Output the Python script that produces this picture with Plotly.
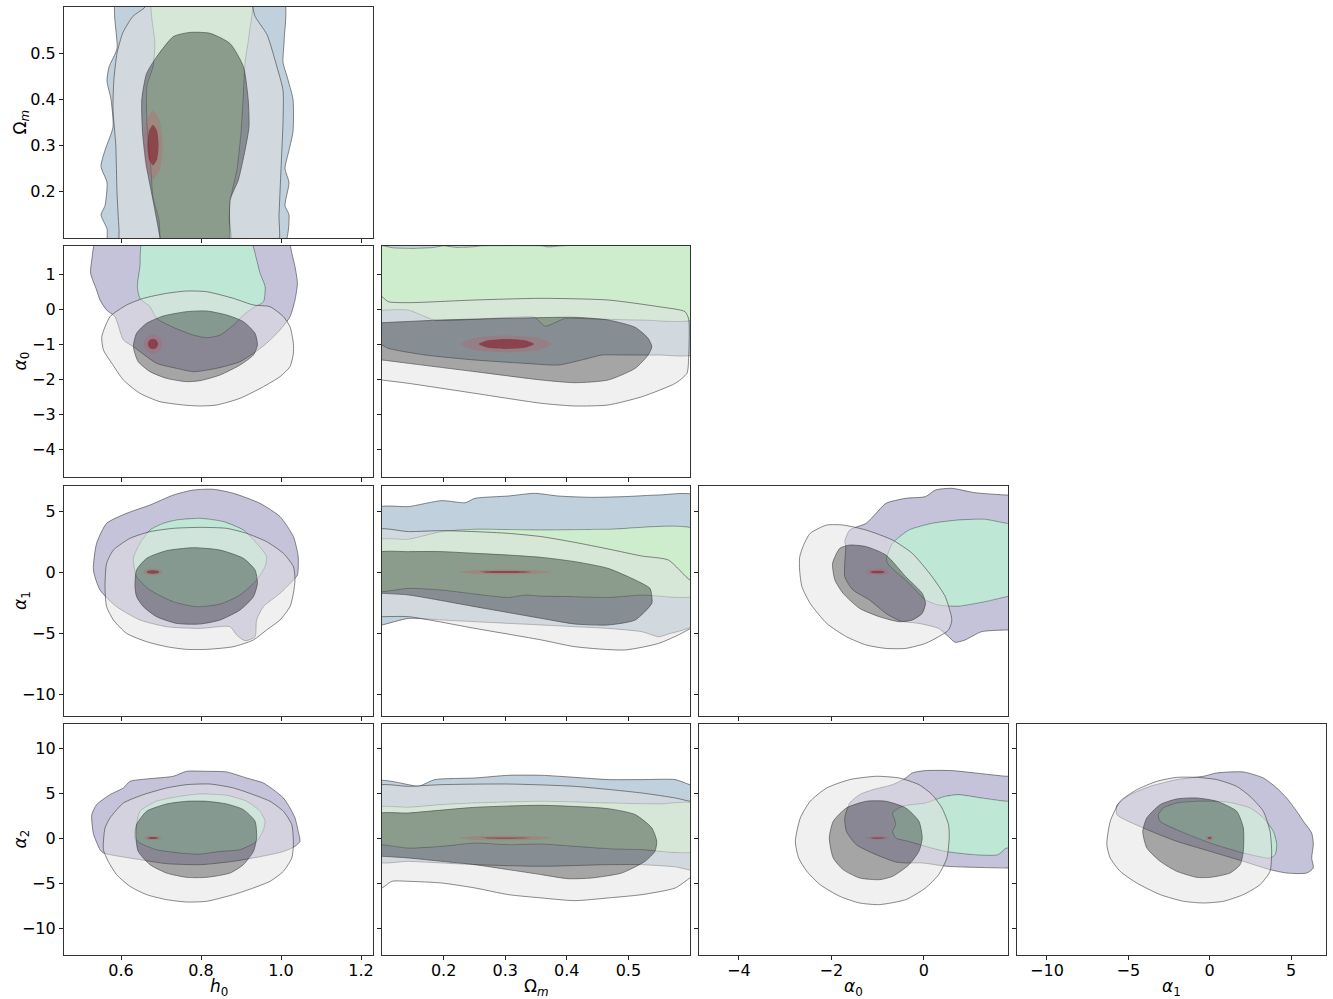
import plotly.graph_objects as go

# ------------------------------------------------------------------
# Contour outlines (data coordinates)
# ------------------------------------------------------------------
# panel h0 - Omega_m
H0_OM_BLUE95 = [(0.59,0.62),(0.59,0.51),(0.57,0.47),(0.565,0.44),(0.575,0.40),(0.58,0.34),(0.56,0.29),(0.55,0.255),(0.565,0.22),(0.56,0.17),(0.55,0.15),(0.565,0.12),(0.57,0.08),(1.005,0.08),(1.02,0.15),(1.01,0.17),(1.02,0.22),(1.01,0.25),(1.02,0.29),(1.03,0.33),(1.03,0.40),(1.015,0.45),(1.005,0.48),(1.008,0.53),(1.005,0.62)]
H0_OM_GREEN68 = [(0.68,0.62),(0.685,0.52),(0.68,0.47),(0.665,0.43),(0.665,0.35),(0.675,0.25),(0.68,0.19),(0.695,0.14),(0.705,0.08),(0.875,0.08),(0.87,0.14),(0.875,0.19),(0.89,0.25),(0.9,0.33),(0.905,0.4),(0.91,0.48),(0.92,0.54),(0.925,0.62)]
H0_OM_GREY95 = [(0.66,0.62),(0.66,0.60),(0.63,0.58),(0.605,0.545),(0.59,0.5),(0.582,0.44),(0.58,0.38),(0.587,0.3),(0.59,0.2),(0.595,0.12),(0.6,0.08),(0.99,0.08),(0.995,0.15),(1.0,0.25),(1.005,0.35),(1.005,0.42),(0.99,0.47),(0.965,0.54),(0.935,0.58),(0.92,0.62)]
H0_OM_GREY68 = [(0.7725,0.545),(0.731,0.536),(0.689,0.492),(0.664,0.456),(0.652,0.399),(0.654,0.327),(0.664,0.254),(0.68,0.182),(0.6975,0.1),(0.70,0.08),(0.87,0.08),(0.8725,0.1),(0.8725,0.182),(0.893,0.225),(0.91,0.29),(0.92,0.341),(0.918,0.399),(0.906,0.471),(0.8725,0.521),(0.8225,0.543)]
H0_OM_RED95 = [(0.704,0.301),(0.697,0.354),(0.68,0.376),(0.663,0.354),(0.656,0.301),(0.663,0.248),(0.68,0.226),(0.697,0.248)]
H0_OM_RED68 = [(0.694,0.301),(0.690,0.332),(0.68,0.345),(0.670,0.332),(0.666,0.301),(0.670,0.270),(0.68,0.257),(0.690,0.270)]

# panel h0 - alpha_0
H0_A0_PURPLE95 = [(0.54,2.0),(0.527,1.4),(0.524,1.02),(0.539,0.543),(0.5475,0.257),(0.564,-0.03),(0.585,-0.22),(0.606,-0.886),(0.631,-1.076),(0.689,-1.55),(0.739,-1.695),(0.781,-1.79),(0.839,-1.695),(0.8975,-1.505),(0.931,-1.267),(0.964,-0.98),(0.9975,-0.6),(1.0225,-0.22),(1.035,0.257),(1.041,0.733),(1.035,1.21),(1.027,1.59),(1.016,2.0)]
H0_A0_MINT68 = [(0.656,2.0),(0.6475,1.21),(0.641,0.638),(0.6475,0.305),(0.6725,0.067),(0.689,-0.267),(0.731,-0.524),(0.781,-0.743),(0.814,-0.819),(0.8475,-0.743),(0.881,-0.457),(0.906,-0.171),(0.931,0.038),(0.956,0.21),(0.96,0.638),(0.9475,1.02),(0.939,1.4),(0.92,2.0)]
H0_A0_GREY95 = [(0.552,-0.79),(0.5725,-0.22),(0.614,0.114),(0.656,0.305),(0.714,0.448),(0.764,0.514),(0.814,0.495),(0.881,0.305),(0.931,0.114),(0.9725,0.067),(1.006,-0.219),(1.0225,-0.505),(1.031,-0.981),(1.031,-1.267),(1.0225,-1.648),(0.9975,-1.933),(0.956,-2.219),(0.8975,-2.552),(0.839,-2.743),(0.7975,-2.771),(0.756,-2.743),(0.6975,-2.648),(0.6475,-2.41),(0.606,-2.029),(0.577,-1.552),(0.556,-1.171)]
H0_A0_GREY68 = [(0.631,-1.076),(0.639,-0.695),(0.664,-0.41),(0.706,-0.2),(0.764,-0.076),(0.814,-0.057),(0.864,-0.171),(0.906,-0.362),(0.935,-0.695),(0.941,-1.029),(0.931,-1.314),(0.8975,-1.6),(0.8475,-1.886),(0.7975,-2.048),(0.764,-2.076),(0.714,-1.981),(0.6725,-1.79),(0.643,-1.505)]
H0_A0_RED95 = [(0.703,-1.0),(0.696,-0.81),(0.68,-0.73),(0.664,-0.81),(0.657,-1.0),(0.664,-1.19),(0.68,-1.27),(0.696,-1.19)]
H0_A0_RED68 = [(0.693,-1.0),(0.689,-0.894),(0.68,-0.85),(0.671,-0.894),(0.667,-1.0),(0.671,-1.106),(0.68,-1.15),(0.689,-1.106)]

# panel Omega_m - alpha_0
OM_A0_BLUE95 = [(0.09,2.1),(0.61,2.1),(0.61,-1.267),(0.549,-1.314),(0.489,-1.314),(0.457,-1.314),(0.424,-1.457),(0.386,-1.6),(0.332,-1.552),(0.251,-1.457),(0.170,-1.314),(0.11,-1.124),(0.1,-1.029),(0.09,-1.0)]
OM_A0_GREEN68 = [(0.09,1.8),(0.12,1.74),(0.15,1.73),(0.18,1.75),(0.2,1.8),(0.22,1.76),(0.245,1.77),(0.26,1.8),(0.36,1.8),(0.37,1.77),(0.39,1.8),(0.61,1.8),(0.61,-0.267),(0.522,-0.314),(0.413,-0.267),(0.397,-0.267),(0.365,-0.486),(0.348,-0.238),(0.305,-0.238),(0.186,-0.314),(0.143,-0.029),(0.1,-0.029),(0.09,-0.029)]
OM_A0_GREY95 = [(0.09,0.40),(0.1,0.352),(0.11,0.21),(0.143,0.181),(0.251,0.257),(0.359,0.305),(0.467,0.257),(0.549,0.067),(0.592,-0.076),(0.598,-0.3),(0.598,-1.3),(0.595,-1.838),(0.576,-2.124),(0.522,-2.505),(0.467,-2.743),(0.413,-2.771),(0.359,-2.695),(0.251,-2.41),(0.143,-2.124),(0.1,-2.029),(0.09,-2.0)]
OM_A0_GREY68 = [(0.09,-0.39),(0.1,-0.39),(0.197,-0.314),(0.305,-0.267),(0.413,-0.238),(0.467,-0.314),(0.511,-0.524),(0.532,-0.838),(0.538,-1.076),(0.532,-1.314),(0.511,-1.695),(0.467,-2.029),(0.413,-2.105),(0.359,-2.029),(0.251,-1.79),(0.143,-1.552),(0.1,-1.457),(0.09,-1.45)]
OM_A0_RED95 = [(0.376,-1.0),(0.354,-0.83),(0.302,-0.76),(0.25,-0.83),(0.228,-1.0),(0.25,-1.17),(0.302,-1.24),(0.354,-1.17)]
OM_A0_RED68 = [(0.347,-1.0),(0.334,-0.901),(0.302,-0.86),(0.27,-0.901),(0.257,-1.0),(0.27,-1.099),(0.302,-1.14),(0.334,-1.099)]

# panel h0 - alpha_1
H0_A1_PURPLE95 = [(0.531,0.165),(0.539,2.35),(0.564,3.99),(0.614,4.81),(0.6725,5.49),(0.731,6.31),(0.781,6.72),(0.831,6.78),(0.881,6.45),(0.9475,5.63),(0.9975,4.54),(1.031,2.90),(1.043,1.26),(1.041,-0.245),(1.031,-0.655),(0.9975,-1.75),(0.956,-2.84),(0.939,-3.93),(0.935,-5.30),(0.91,-5.63),(0.889,-5.16),(0.8725,-4.48),(0.7975,-4.62),(0.714,-4.48),(0.6475,-3.93),(0.589,-2.84),(0.5475,-1.47)]
H0_A1_MINT68 = [(0.631,1.12),(0.6475,2.35),(0.6725,3.44),(0.706,3.99),(0.739,4.26),(0.7975,4.40),(0.856,4.13),(0.906,3.44),(0.939,2.35),(0.964,1.26),(0.96,0.44),(0.939,-0.655),(0.8975,-1.88),(0.8475,-2.62),(0.789,-2.84),(0.731,-2.43),(0.6725,-1.47),(0.639,-0.38)]
H0_A1_GREY95 = [(0.56,-1.20),(0.564,0.71),(0.581,1.80),(0.6225,2.76),(0.6725,3.31),(0.731,3.58),(0.7975,3.66),(0.864,3.58),(0.914,3.17),(0.964,2.49),(1.006,1.53),(1.031,0.44),(1.035,-0.655),(1.031,-1.75),(1.0225,-2.84),(0.9975,-3.93),(0.964,-4.75),(0.931,-5.57),(0.881,-6.12),(0.814,-6.34),(0.764,-6.34),(0.714,-6.12),(0.664,-5.71),(0.614,-5.03),(0.581,-3.93),(0.564,-2.84)]
H0_A1_GREY68 = [(0.635,-1.20),(0.639,0.165),(0.664,1.12),(0.714,1.75),(0.781,1.99),(0.8475,1.80),(0.906,1.12),(0.935,0.165),(0.941,-0.93),(0.931,-2.02),(0.8975,-3.11),(0.8475,-3.93),(0.7975,-4.26),(0.739,-4.21),(0.689,-3.66),(0.656,-2.84),(0.639,-2.02)]
H0_A1_RED95 = [(0.705,0.0),(0.698,0.184),(0.68,0.26),(0.662,0.184),(0.655,0.0),(0.662,-0.184),(0.68,-0.26),(0.698,-0.184)]
H0_A1_RED68 = [(0.696,0.0),(0.691,0.099),(0.68,0.14),(0.669,0.099),(0.664,0.0),(0.669,-0.099),(0.68,-0.14),(0.691,-0.099)]

# panel Omega_m - alpha_1
OM_A1_BLUE95 = [(0.09,5.22),(0.143,5.36),(0.197,5.85),(0.235,5.68),(0.251,6.04),(0.305,6.23),(0.348,6.45),(0.386,6.23),(0.440,6.12),(0.494,6.18),(0.549,6.31),(0.61,6.23),(0.61,-4.21),(0.565,-5.08),(0.549,-5.30),(0.522,-4.89),(0.467,-4.62),(0.413,-4.48),(0.359,-4.34),(0.251,-4.07),(0.197,-3.93),(0.143,-3.80),(0.1,-4.34),(0.09,-4.4)]
OM_A1_GREEN68 = [(0.09,2.57),(0.143,2.68),(0.197,3.31),(0.251,3.50),(0.359,3.44),(0.467,3.50),(0.61,3.44),(0.61,-1.88),(0.522,-1.88),(0.467,-2.08),(0.413,-2.02),(0.359,-1.97),(0.332,-1.88),(0.305,-2.08),(0.251,-1.80),(0.197,-1.47),(0.143,-1.34),(0.1,-1.61),(0.09,-1.61)]
OM_A1_GREY95 = [(0.09,3.44),(0.143,3.31),(0.197,3.39),(0.251,3.31),(0.305,3.17),(0.359,2.90),(0.413,2.43),(0.467,1.89),(0.522,1.31),(0.565,0.98),(0.6,-0.655),(0.61,-0.7),(0.61,-4.21),(0.586,-5.03),(0.549,-5.85),(0.494,-6.39),(0.413,-6.12),(0.359,-5.57),(0.251,-4.62),(0.143,-3.66),(0.1,-3.66),(0.09,-3.66)]
OM_A1_GREY68 = [(0.09,1.53),(0.143,1.67),(0.197,1.67),(0.251,1.53),(0.305,1.39),(0.359,1.20),(0.413,0.85),(0.467,0.30),(0.511,-0.655),(0.535,-1.34),(0.538,-2.0),(0.538,-2.57),(0.511,-3.93),(0.467,-4.34),(0.413,-4.26),(0.359,-3.80),(0.251,-2.84),(0.143,-1.88),(0.1,-1.75),(0.09,-1.75)]
OM_A1_RED95 = [(0.374,0.0),(0.352,0.141),(0.30,0.2),(0.248,0.141),(0.226,0.0),(0.248,-0.141),(0.30,-0.2),(0.352,-0.141)]
OM_A1_RED68 = [(0.342,0.0),(0.330,0.057),(0.30,0.08),(0.27,0.057),(0.258,0.0),(0.27,-0.057),(0.30,-0.08),(0.330,-0.057)]

# panel alpha_0 - alpha_1
A0_A1_PURPLE95 = [(-1.709,2.49),(-1.602,3.44),(-1.246,3.99),(-1.032,4.81),(-0.819,5.63),(-0.391,6.04),(0.036,6.18),(0.250,6.72),(0.606,6.86),(1.105,6.50),(1.781,6.31),(1.95,6.3),(1.95,-4.75),(1.781,-4.75),(1.247,-4.89),(0.891,-5.57),(0.677,-5.76),(0.535,-5.30),(0.321,-4.62),(-0.106,-4.21),(-0.498,-4.02),(-0.819,-3.39),(-1.175,-2.29),(-1.531,-1.47),(-1.709,-0.38),(-1.687,2.21)]
A0_A1_MINT68 = [(-0.804,1.12),(-0.676,2.35),(-0.32,3.44),(0.179,3.99),(0.748,4.26),(1.318,4.32),(1.781,3.99),(1.95,3.9),(1.95,-1.9),(1.781,-2.02),(1.318,-2.43),(0.748,-2.79),(0.321,-2.70),(0.036,-2.29),(-0.178,-1.47),(-0.391,-0.655),(-0.605,0.028),(-0.783,0.71)]
A0_A1_GREY95 = [(-2.685,0.165),(-2.685,1.2),(-2.6,2.2),(-2.457,3.17),(-2.1,3.85),(-1.744,3.85),(-1.246,3.44),(-0.676,2.62),(-0.249,1.53),(0.179,-0.38),(0.464,-2.02),(0.606,-3.93),(0.535,-4.75),(0.321,-5.30),(0.036,-5.85),(-0.391,-6.26),(-0.819,-6.26),(-1.246,-5.98),(-1.673,-5.30),(-2.1,-4.21),(-2.457,-2.57),(-2.635,-1.20)]
A0_A1_GREY68 = [(-1.972,0.71),(-1.816,1.94),(-1.602,2.21),(-1.246,2.08),(-0.819,1.39),(-0.391,-0.38),(-0.035,-1.75),(0.036,-2.57),(-0.035,-3.39),(-0.249,-3.93),(-0.534,-4.07),(-0.961,-3.66),(-1.388,-2.98),(-1.744,-1.75),(-1.922,-0.655)]
A0_A1_RED95 = [(-0.74,0.0),(-0.816,0.184),(-1.0,0.26),(-1.184,0.184),(-1.26,0.0),(-1.184,-0.184),(-1.0,-0.26),(-0.816,-0.184)]
A0_A1_RED68 = [(-0.84,0.0),(-0.887,0.078),(-1.0,0.11),(-1.113,0.078),(-1.16,0.0),(-1.113,-0.078),(-1.0,-0.11),(-0.887,-0.078)]

# panel h0 - alpha_2
H0_A2_PURPLE95 = [(0.527,2.60),(0.539,3.71),(0.5725,4.82),(0.606,5.56),(0.6225,6.30),(0.664,6.56),(0.731,6.86),(0.764,7.41),(0.814,7.41),(0.864,7.34),(0.914,6.67),(0.956,6.11),(0.981,5.37),(1.006,4.45),(1.0225,3.34),(1.035,2.23),(1.043,0.74),(1.0475,-0.37),(1.035,-0.92),(1.006,-1.5),(0.956,-2.0),(0.881,-2.59),(0.8,-2.96),(0.714,-2.85),(0.6475,-2.4),(0.556,-1.66),(0.5475,-1.29),(0.531,0.5)]
H0_A2_MINT68 = [(0.635,0.74),(0.639,1.48),(0.6475,2.97),(0.689,4.08),(0.7475,4.63),(0.7975,4.89),(0.864,4.74),(0.914,4.08),(0.9475,2.97),(0.96,1.86),(0.956,0.93),(0.939,-0.37),(0.8975,-1.29),(0.8475,-1.48),(0.7975,-1.78),(0.7475,-1.66),(0.689,-1.29),(0.6475,-0.55),(0.635,0.0)]
H0_A2_GREY95 = [(0.556,-1.29),(0.56,1.11),(0.5725,2.23),(0.606,3.89),(0.656,4.82),(0.714,5.56),(0.764,5.93),(0.8225,6.0),(0.881,5.56),(0.931,4.82),(0.9725,4.08),(1.006,2.97),(1.027,1.48),(1.031,-0.74),(1.027,-2.22),(1.006,-3.70),(0.9725,-4.81),(0.931,-5.55),(0.881,-6.29),(0.814,-7.03),(0.764,-7.11),(0.714,-6.85),(0.664,-6.29),(0.6225,-5.37),(0.589,-4.07),(0.568,-2.59)]
H0_A2_GREY68 = [(0.6375,0.0),(0.639,1.48),(0.664,2.97),(0.714,3.78),(0.764,4.08),(0.814,4.08),(0.864,3.78),(0.906,3.15),(0.935,1.86),(0.939,0.0),(0.931,-1.48),(0.906,-2.96),(0.8725,-3.89),(0.814,-4.37),(0.764,-4.37),(0.714,-3.89),(0.6725,-2.96),(0.643,-1.48)]
H0_A2_RED95 = [(0.703,0.0),(0.696,0.17),(0.68,0.24),(0.664,0.17),(0.657,0.0),(0.664,-0.17),(0.68,-0.24),(0.696,-0.17)]
H0_A2_RED68 = [(0.694,0.0),(0.69,0.071),(0.68,0.1),(0.67,0.071),(0.666,0.0),(0.67,-0.071),(0.68,-0.1),(0.69,-0.071)]

# panel Omega_m - alpha_2
OM_A2_BLUE95 = [(0.09,6.30),(0.143,5.93),(0.159,5.74),(0.186,6.49),(0.251,6.67),(0.305,6.97),(0.359,6.97),(0.413,6.74),(0.467,6.49),(0.522,6.49),(0.576,6.49),(0.6,5.93),(0.61,5.9),(0.61,-3.51),(0.576,-3.2),(0.522,-2.96),(0.467,-2.96),(0.359,-3.14),(0.251,-2.96),(0.143,-2.59),(0.09,-2.59)]
OM_A2_GREEN68 = [(0.09,3.34),(0.143,3.41),(0.197,3.71),(0.251,3.89),(0.359,4.08),(0.467,3.89),(0.549,3.78),(0.61,3.78),(0.61,-1.40),(0.522,-1.29),(0.467,-1.18),(0.413,-0.92),(0.359,-0.66),(0.305,-0.74),(0.251,-0.55),(0.197,-0.92),(0.143,-1.11),(0.1,-0.74),(0.09,-0.74)]
OM_A2_GREY95 = [(0.09,5.74),(0.143,5.74),(0.197,5.93),(0.305,6.0),(0.413,5.74),(0.522,5.0),(0.576,4.45),(0.6,4.08),(0.61,4.0),(0.61,-4.0),(0.6,-4.44),(0.576,-5.55),(0.522,-6.29),(0.467,-6.66),(0.413,-6.96),(0.359,-6.66),(0.305,-6.29),(0.251,-5.55),(0.197,-5.0),(0.143,-4.81),(0.116,-4.81),(0.1,-5.55),(0.09,-5.6)]
OM_A2_GREY68 = [(0.09,2.60),(0.143,2.78),(0.251,3.41),(0.359,3.63),(0.467,3.26),(0.511,2.60),(0.538,1.11),(0.546,-0.37),(0.543,-1.48),(0.527,-2.59),(0.489,-3.89),(0.440,-4.44),(0.402,-4.52),(0.359,-4.07),(0.305,-3.51),(0.251,-2.96),(0.197,-2.59),(0.143,-2.22),(0.1,-2.03),(0.09,-2.03)]
OM_A2_RED95 = [(0.375,0.0),(0.353,0.184),(0.30,0.26),(0.247,0.184),(0.225,0.0),(0.247,-0.184),(0.30,-0.26),(0.353,-0.184)]
OM_A2_RED68 = [(0.34,0.0),(0.328,0.05),(0.30,0.07),(0.272,0.05),(0.26,0.0),(0.272,-0.05),(0.30,-0.07),(0.328,-0.05)]

# panel alpha_0 - alpha_2
A0_A2_PURPLE95 = [(-1.602,3.89),(-1.388,4.82),(-1.103,5.37),(-0.676,5.93),(-0.391,6.67),(-0.249,7.23),(0.036,7.49),(0.606,7.49),(1.105,7.23),(1.781,6.86),(1.95,6.86),(1.95,-3.33),(1.781,-3.33),(1.105,-3.26),(0.499,-3.14),(-0.035,-2.77),(-0.391,-2.77),(-0.605,-2.66),(-1.032,-1.85),(-1.46,-0.74),(-1.673,0.74),(-1.709,2.23)]
A0_A2_MINT68 = [(-0.676,2.78),(-0.463,3.52),(0.036,3.89),(0.464,4.63),(0.748,4.82),(1.247,4.45),(1.781,4.08),(1.95,4.08),(1.95,-1.11),(1.781,-1.11),(1.603,-1.85),(1.105,-1.85),(0.464,-1.48),(0.036,-0.92),(-0.32,-0.37),(-0.605,0.0),(-0.676,0.74),(-0.605,1.48),(-0.641,2.23)]
A0_A2_GREY95 = [(-2.777,-0.37),(-2.670,2.23),(-2.457,4.08),(-2.1,5.56),(-1.602,6.49),(-1.032,6.86),(-0.534,6.67),(-0.106,5.93),(0.179,4.82),(0.392,3.34),(0.535,1.48),(0.549,0.0),(0.499,-2.22),(0.321,-4.07),(0.036,-5.55),(-0.391,-6.85),(-0.961,-7.40),(-1.388,-7.22),(-1.816,-6.48),(-2.243,-5.18),(-2.528,-3.70),(-2.706,-2.22)]
A0_A2_GREY68 = [(-2.043,0.0),(-1.958,1.86),(-1.673,3.34),(-1.246,4.08),(-0.819,4.08),(-0.391,3.34),(-0.106,1.86),(-0.035,0.0),(-0.106,-1.48),(-0.32,-2.96),(-0.676,-4.26),(-0.961,-4.63),(-1.388,-4.44),(-1.744,-3.51),(-1.958,-2.22)]
A0_A2_RED95 = [(-0.74,0.0),(-0.816,0.141),(-1.0,0.2),(-1.184,0.141),(-1.26,0.0),(-1.184,-0.141),(-1.0,-0.2),(-0.816,-0.141)]
A0_A2_RED68 = [(-0.84,0.0),(-0.887,0.05),(-1.0,0.07),(-1.113,0.05),(-1.16,0.0),(-1.113,-0.05),(-1.0,-0.07),(-0.887,-0.05)]

# panel alpha_1 - alpha_2
A1_A2_PURPLE95 = [(-5.70,3.63),(-4.88,4.82),(-3.66,5.74),(-2.02,6.49),(-0.38,6.86),(0.44,7.23),(2.07,7.34),(3.30,6.67),(4.12,5.56),(4.73,4.45),(5.35,2.97),(5.76,1.86),(6.27,0.56),(6.37,-0.74),(6.27,-2.22),(6.37,-3.33),(5.96,-3.89),(4.73,-3.89),(3.71,-3.51),(2.07,-2.59),(0.03,-1.48),(-2.02,-0.37),(-4.07,1.11),(-5.70,2.60)]
A1_A2_MINT68 = [(-3.15,2.60),(-2.84,3.34),(-2.02,3.89),(-0.79,4.08),(1.05,4.0),(2.48,3.34),(3.30,2.23),(3.91,0.74),(4.12,-0.74),(4.02,-1.85),(3.71,-2.22),(2.07,-1.66),(0.03,-0.55),(-2.02,0.93),(-3.04,1.86)]
A1_A2_GREY95 = [(-6.32,-0.74),(-6.11,1.86),(-5.50,4.08),(-4.48,5.37),(-3.25,6.30),(-2.02,6.74),(-0.79,6.74),(0.44,6.49),(1.66,5.74),(2.48,4.63),(3.30,2.97),(3.71,0.74),(3.81,-1.48),(3.71,-3.70),(3.10,-5.18),(2.07,-6.29),(0.85,-7.03),(-0.38,-7.22),(-1.61,-7.03),(-3.04,-6.29),(-4.48,-5.0),(-5.50,-3.70),(-6.11,-2.22)]
A1_A2_GREY68 = [(-4.11,0.74),(-3.86,2.23),(-3.04,3.71),(-2.02,4.34),(-0.79,4.45),(0.44,4.08),(1.66,2.97),(2.07,1.11),(2.07,-1.48),(1.87,-2.96),(1.25,-3.89),(0.03,-4.37),(-0.79,-4.37),(-2.02,-3.70),(-3.04,-2.59),(-3.86,-1.11)]
A1_A2_RED95 = [(0.25,0.0),(0.177,0.184),(0.0,0.26),(-0.177,0.184),(-0.25,0.0),(-0.177,-0.184),(0.0,-0.26),(0.177,-0.184)]
A1_A2_RED68 = [(0.11,0.0),(0.078,0.078),(0.0,0.11),(-0.078,0.078),(-0.11,0.0),(-0.078,-0.078),(0.0,-0.11),(0.078,-0.078)]

# ------------------------------------------------------------------
# Axes
# ------------------------------------------------------------------
X_RANGE = {"h0": [0.4575, 1.23], "Om": [0.1, 0.6], "a0": [-4.86, 1.82], "a1": [-11.84, 7.15]}
Y_RANGE = {"Om": [0.1, 0.6], "a0": [-4.8, 1.8], "a1": [-11.8, 7.05], "a2": [-13.0, 12.67]}
X_TICKS = {"h0": [0.6, 0.8, 1.0, 1.2], "Om": [0.2, 0.3, 0.4, 0.5], "a0": [-4, -2, 0], "a1": [-10, -5, 0, 5]}
X_TICKTEXT = {"h0": ["0.6", "0.8", "1.0", "1.2"], "Om": ["0.2", "0.3", "0.4", "0.5"],
              "a0": ["\u22124", "\u22122", "0"], "a1": ["\u221210", "\u22125", "0", "5"]}
Y_TICKS = {"Om": [0.2, 0.3, 0.4, 0.5], "a0": [-4, -3, -2, -1, 0, 1], "a1": [-10, -5, 0, 5], "a2": [-10, -5, 0, 5, 10]}
Y_TICKTEXT = {"Om": ["0.2", "0.3", "0.4", "0.5"],
              "a0": ["\u22124", "\u22123", "\u22122", "\u22121", "0", "1"],
              "a1": ["\u221210", "\u22125", "0", "5"],
              "a2": ["\u221210", "\u22125", "0", "5", "10"]}
LABELS = {"h0": "<i>h</i><sub>0</sub>", "Om": "\u03a9<sub><i>m</i></sub>",
          "a0": "<i>\u03b1</i><sub>0</sub>", "a1": "<i>\u03b1</i><sub>1</sub>", "a2": "<i>\u03b1</i><sub>2</sub>"}
COL_VARS = ["h0", "Om", "a0", "a1"]
ROW_VARS = ["Om", "a0", "a1", "a2"]

# panels: (row, col, [(outer95, inner68, style)...])
PANELS = [
    (0, 0, [(H0_OM_BLUE95, H0_OM_GREEN68, "bg"), (H0_OM_GREY95, H0_OM_GREY68, "grey"), (H0_OM_RED95, H0_OM_RED68, "red")]),
    (1, 0, [(H0_A0_PURPLE95, H0_A0_MINT68, "pm"), (H0_A0_GREY95, H0_A0_GREY68, "grey"), (H0_A0_RED95, H0_A0_RED68, "red")]),
    (1, 1, [(OM_A0_BLUE95, OM_A0_GREEN68, "bg"), (OM_A0_GREY95, OM_A0_GREY68, "grey"), (OM_A0_RED95, OM_A0_RED68, "red")]),
    (2, 0, [(H0_A1_PURPLE95, H0_A1_MINT68, "pm"), (H0_A1_GREY95, H0_A1_GREY68, "grey"), (H0_A1_RED95, H0_A1_RED68, "red")]),
    (2, 1, [(OM_A1_BLUE95, OM_A1_GREEN68, "bg"), (OM_A1_GREY95, OM_A1_GREY68, "grey"), (OM_A1_RED95, OM_A1_RED68, "red")]),
    (2, 2, [(A0_A1_PURPLE95, A0_A1_MINT68, "pm"), (A0_A1_GREY95, A0_A1_GREY68, "grey"), (A0_A1_RED95, A0_A1_RED68, "red")]),
    (3, 0, [(H0_A2_PURPLE95, H0_A2_MINT68, "pm"), (H0_A2_GREY95, H0_A2_GREY68, "grey"), (H0_A2_RED95, H0_A2_RED68, "red")]),
    (3, 1, [(OM_A2_BLUE95, OM_A2_GREEN68, "bg"), (OM_A2_GREY95, OM_A2_GREY68, "grey"), (OM_A2_RED95, OM_A2_RED68, "red")]),
    (3, 2, [(A0_A2_PURPLE95, A0_A2_MINT68, "pm"), (A0_A2_GREY95, A0_A2_GREY68, "grey"), (A0_A2_RED95, A0_A2_RED68, "red")]),
    (3, 3, [(A1_A2_PURPLE95, A1_A2_MINT68, "pm"), (A1_A2_GREY95, A1_A2_GREY68, "grey"), (A1_A2_RED95, A1_A2_RED68, "red")]),
]

STYLES = {
    "bg":   ("rgba(129,161,187,0.5)", "rgba(155,219,155,0.5)", "rgba(60,60,60,0.6)", 1.0),
    "pm":   ("rgba(139,135,181,0.5)", "rgba(127,207,173,0.5)", "rgba(60,60,60,0.6)", 1.0),
    "grey": ("rgba(225,225,225,0.5)", "rgba(75,75,75,0.5)", "rgba(60,60,60,0.6)", 1.0),
    "red":  ("rgba(200,80,90,0.25)", "rgba(140,35,45,0.7)", "rgba(0,0,0,0)", 0.0),
}

# layout geometry (pixels)
W, H = 1333, 999
COL_PX = [(64, 373), (382, 690), (699, 1008), (1017, 1326)]
ROW_PX = [(7, 238), (246, 477), (486, 716), (724, 955)]
FONT = "DejaVu Sans"
TICK_SIZE = 16
TITLE_SIZE = 17


def signed_area(pts):
    s = 0.0
    for i in range(len(pts)):
        x1, y1 = pts[i]
        x2, y2 = pts[(i + 1) % len(pts)]
        s += x1 * y2 - x2 * y1
    return s


def ring(outer, inner):
    inn = list(inner)
    if (signed_area(outer) > 0) == (signed_area(inn) > 0):
        inn = inn[::-1]
    o = list(outer) + [outer[0]]
    i = inn + [inn[0]]
    xs = [p[0] for p in o] + [None] + [p[0] for p in i]
    ys = [p[1] for p in o] + [None] + [p[1] for p in i]
    return xs, ys


fig = go.Figure()
layout = dict(width=W, height=H, margin=dict(l=0, r=0, t=0, b=0, autoexpand=False),
              paper_bgcolor="white", plot_bgcolor="white", showlegend=False,
              font=dict(family=FONT, size=TICK_SIZE, color="black"))

annotations = []
for k, (r, c, sets) in enumerate(PANELS, start=1):
    xa = "x" if k == 1 else f"x{k}"
    ya = "y" if k == 1 else f"y{k}"
    for outer, inner, st in sets:
        c95, c68, lc, lw = STYLES[st]
        xs, ys = ring(outer, inner)
        fig.add_trace(go.Scatter(x=xs, y=ys, mode="lines", fill="toself", fillcolor=c95,
                                 line=dict(color=lc, width=lw, shape="spline", smoothing=0.6),
                                 hoverinfo="skip", xaxis=xa, yaxis=ya))
        ic = list(inner) + [inner[0]]
        fig.add_trace(go.Scatter(x=[p[0] for p in ic], y=[p[1] for p in ic], mode="lines",
                                 fill="toself", fillcolor=c68,
                                 line=dict(color="rgba(0,0,0,0)", width=0, shape="spline", smoothing=0.6),
                                 hoverinfo="skip", xaxis=xa, yaxis=ya))
    xv, yv = COL_VARS[c], ROW_VARS[r]
    x0, x1 = COL_PX[c]
    y0, y1 = ROW_PX[r]
    common = dict(showgrid=False, zeroline=False, showline=True, linecolor="#333333", linewidth=1.2,
                  mirror=True, ticks="outside", ticklen=4, tickwidth=1, tickcolor="#222222",
                  automargin=False, tickfont=dict(family=FONT, size=TICK_SIZE, color="black"))
    layout["xaxis" if k == 1 else f"xaxis{k}"] = dict(
        domain=[x0 / W, x1 / W], range=X_RANGE[xv], anchor=ya, tickmode="array",
        tickvals=X_TICKS[xv], ticktext=X_TICKTEXT[xv], showticklabels=(r == 3),
        ticklabelstandoff=-3, **common)
    layout["yaxis" if k == 1 else f"yaxis{k}"] = dict(
        domain=[1 - y1 / H, 1 - y0 / H], range=Y_RANGE[yv], anchor=xa, tickmode="array",
        tickvals=Y_TICKS[yv], ticktext=Y_TICKTEXT[yv], showticklabels=(c == 0), **common)

for c, v in enumerate(COL_VARS):
    x0, x1 = COL_PX[c]
    annotations.append(dict(text=LABELS[v], x=(x0 + x1) / 2 / W, y=1 - 987 / H, xref="paper", yref="paper",
                            showarrow=False, xanchor="center", yanchor="middle",
                            font=dict(family=FONT, size=TITLE_SIZE, color="black")))
for r, v in enumerate(ROW_VARS):
    y0, y1 = ROW_PX[r]
    annotations.append(dict(text=LABELS[v], x=21 / W, y=1 - (y0 + y1) / 2 / H, xref="paper", yref="paper",
                            showarrow=False, xanchor="center", yanchor="middle", textangle=-90,
                            font=dict(family=FONT, size=TITLE_SIZE, color="black")))
layout["annotations"] = annotations
fig.update_layout(**layout)
fig.write_html("out.html")
